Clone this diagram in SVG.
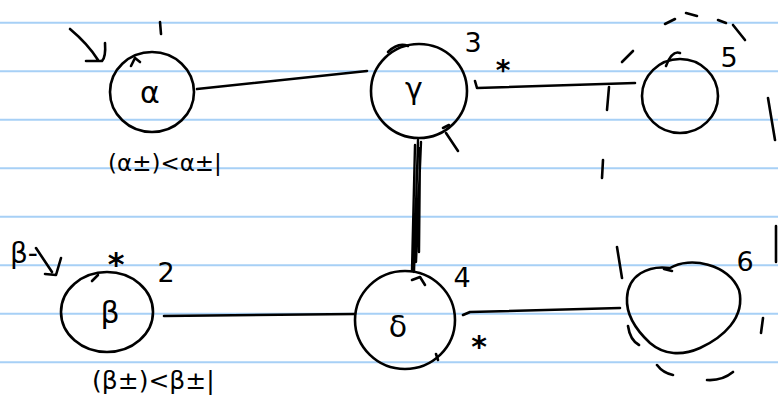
<svg xmlns="http://www.w3.org/2000/svg" width="778" height="398" viewBox="0 0 778 398">
<style>
.ruled{stroke:#a7d0f6;stroke-width:2}
.ink{fill:none;stroke:#000;stroke-width:2.6;stroke-linecap:round;stroke-linejoin:round}
.node{fill:none;stroke:#000;stroke-width:2.6}
.t{font-family:"DejaVu Sans","Liberation Sans",sans-serif;fill:#000;text-anchor:middle}
.g{font-size:30px}
.n{font-size:27px}
.lab{font-size:23px;text-anchor:start}
</style>
<rect width="778" height="398" fill="#fff"/>
<g id="paper">
<line class="ruled" x1="0" y1="22.7" x2="778" y2="22.7"/>
<line class="ruled" x1="0" y1="71.2" x2="778" y2="71.2"/>
<line class="ruled" x1="0" y1="119.7" x2="778" y2="119.7"/>
<line class="ruled" x1="0" y1="168.2" x2="778" y2="168.2"/>
<line class="ruled" x1="0" y1="216.7" x2="778" y2="216.7"/>
<line class="ruled" x1="0" y1="265.2" x2="778" y2="265.2"/>
<line class="ruled" x1="0" y1="313.7" x2="778" y2="313.7"/>
<line class="ruled" x1="0" y1="362.2" x2="778" y2="362.2"/>
</g>
<g id="connectors">
<path class="ink" d="M197 89 L367 71"/>
<path class="ink" d="M475 81 L477 88 L635 83"/>
<path class="ink" d="M164 316 L355 314"/>
<path class="ink" d="M463 315 L470 312 L620 308"/>
<path class="ink" d="M418 140 L414 272 M421 142 L416 262 M415 145 L412 270 M420 148 L419 252" style="stroke-width:2.4"/>
</g>
<g id="node-alpha">
<ellipse class="node" cx="152" cy="92" rx="42" ry="40"/>
<path class="ink" d="M131 66 L135 58 L140 62"/>
<text class="t g" x="150" y="103">α</text>
</g>
<g id="node-gamma">
<ellipse class="node" cx="419" cy="91" rx="48" ry="47"/>
<path class="ink" d="M388 52 Q398 42 408 46"/>
<path class="ink" d="M443 128 L449 125 M446 133 L458 151"/>
<text class="t g" x="414" y="99">γ</text>
<text class="t n" x="473" y="52">3</text>
</g>
<g id="node-5">
<ellipse class="node" cx="680" cy="96" rx="38" ry="37"/>
<path class="ink" d="M666 66 Q672 50 680 53"/>
<text class="t n" x="729" y="67">5</text>
</g>
<g id="node-beta">
<ellipse class="node" cx="107" cy="312" rx="46" ry="40"/>
<path class="ink" d="M92 281 L98 275"/>
<text class="t g" x="110" y="323">β</text>
<text class="t n" x="166" y="282">2</text>
</g>
<g id="node-delta">
<ellipse class="node" cx="405" cy="320" rx="50" ry="49"/>
<path class="ink" d="M412 280 L420 277 L425 285 M436 354 L438 360"/>
<text class="t g" x="398" y="337">δ</text>
<text class="t n" x="462" y="287">4</text>
</g>
<g id="node-6">
<path class="node" d="M627 298 C628 275 648 265 670 268 C690 256 728 264 739 290 C746 318 722 338 700 348 C682 356 664 355 650 343 C636 330 626 315 627 298 Z"/>
<path class="ink" d="M664 269 L672 271"/>
<text class="t n" x="745" y="271">6</text>
</g>
<g id="annotations">
<path class="ink" d="M70 29 Q88 44 98 60 M105 43 Q106 57 102 61 L86 61"/>
<path class="ink" d="M160 22 L161 34"/>
<text class="t lab" x="108" y="171">(α±)&lt;α±|</text>
<path class="ink" d="M36 248 L52 272 M45 274 L56 275 L61 258"/>
<text class="t n" x="10" y="263" style="text-anchor:start;font-size:28px">β-</text>
<text class="t" x="116" y="275" style="font-size:32px;font-weight:bold">*</text>
<text class="t lab" x="92" y="389" style="font-size:25px">(β±)&lt;β±|</text>
<text class="t" x="503" y="80" style="font-size:28px;font-weight:bold">*</text>
<text class="t" x="479" y="357" style="font-size:30px;font-weight:bold">*</text>
<path class="ink" d="M622 62 L633 51 M665 24 L675 19 M686 13 L697 16 M718 20 L726 23 M733 25 L745 40"/>
<path class="ink" d="M609 87 L607 110 M603 160 L602 178 M768 98 L775 140 M776 226 L776 262 M763 318 L761 333"/>
<path class="ink" d="M617 247 L622 278 M628 326 Q630 340 639 345 M657 365 Q663 373 673 375 M707 380 Q722 381 733 372"/>
</g>
</svg>
